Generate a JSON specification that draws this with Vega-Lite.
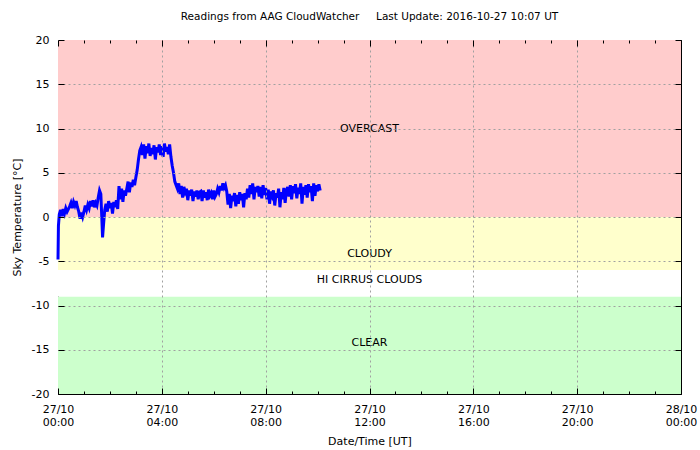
{
  "$schema": "https://vega.github.io/schema/vega-lite/v6.json",
  "width": 623,
  "height": 354,
  "autosize": {"type": "none"},
  "padding": {"left": 58, "top": 40, "right": 19, "bottom": 56},
  "background": "white",
  "title": {"text": "Readings from AAG CloudWatcher\u00a0\u00a0\u00a0\u00a0 Last Update: 2016-10-27 10:07 UT", "fontSize": 10.5, "fontWeight": "normal", "font": "DejaVu Sans", "anchor": "middle", "offset": 12, "color": "black"},
  "config": {"view": {"stroke": "black", "strokeWidth": 1}, "font": "DejaVu Sans"},
  "resolve": {"axis": {"x": "independent", "y": "independent"}},
  "datasets": {
    "bands": [
      {"zone": "OVERCAST", "lo": 0, "hi": 20},
      {"zone": "CLOUDY", "lo": -6, "hi": 0},
      {"zone": "HI CIRRUS CLOUDS", "lo": -9, "hi": -6},
      {"zone": "CLEAR", "lo": -20, "hi": -9}
    ],
    "labels": [
      {"t": "2016-10-27T12:00:00Z", "v": 10, "label": "OVERCAST"},
      {"t": "2016-10-27T12:00:00Z", "v": -4.2, "label": "CLOUDY"},
      {"t": "2016-10-27T12:00:00Z", "v": -7.1, "label": "HI CIRRUS CLOUDS"},
      {"t": "2016-10-27T12:00:00Z", "v": -14.2, "label": "CLEAR"}
    ],
    "sky": [
      {"t": "2016-10-27T00:00:00Z", "v": -4.8},
      {"t": "2016-10-27T00:01:00Z", "v": -1.0},
      {"t": "2016-10-27T00:03:00Z", "v": 0.3},
      {"t": "2016-10-27T00:06:00Z", "v": 0.8},
      {"t": "2016-10-27T00:09:00Z", "v": 0.1},
      {"t": "2016-10-27T00:12:00Z", "v": 0.9},
      {"t": "2016-10-27T00:15:00Z", "v": 0.4},
      {"t": "2016-10-27T00:18:00Z", "v": 1.0},
      {"t": "2016-10-27T00:21:00Z", "v": 0.6},
      {"t": "2016-10-27T00:24:00Z", "v": 0.9},
      {"t": "2016-10-27T00:27:00Z", "v": 1.2},
      {"t": "2016-10-27T00:30:00Z", "v": 1.6},
      {"t": "2016-10-27T00:33:00Z", "v": 1.0},
      {"t": "2016-10-27T00:36:00Z", "v": 1.7},
      {"t": "2016-10-27T00:39:00Z", "v": 1.3},
      {"t": "2016-10-27T00:42:00Z", "v": 1.8},
      {"t": "2016-10-27T00:45:00Z", "v": 1.1},
      {"t": "2016-10-27T00:48:00Z", "v": 0.6},
      {"t": "2016-10-27T00:51:00Z", "v": -0.2},
      {"t": "2016-10-27T00:54:00Z", "v": 0.5},
      {"t": "2016-10-27T00:57:00Z", "v": 0.0},
      {"t": "2016-10-27T01:00:00Z", "v": 0.6},
      {"t": "2016-10-27T01:03:00Z", "v": 1.3},
      {"t": "2016-10-27T01:06:00Z", "v": 0.8},
      {"t": "2016-10-27T01:09:00Z", "v": 1.4},
      {"t": "2016-10-27T01:12:00Z", "v": 1.0},
      {"t": "2016-10-27T01:15:00Z", "v": 1.8},
      {"t": "2016-10-27T01:18:00Z", "v": 1.2},
      {"t": "2016-10-27T01:21:00Z", "v": 1.9},
      {"t": "2016-10-27T01:24:00Z", "v": 1.1},
      {"t": "2016-10-27T01:27:00Z", "v": 1.6},
      {"t": "2016-10-27T01:30:00Z", "v": 1.3},
      {"t": "2016-10-27T01:33:00Z", "v": 2.2},
      {"t": "2016-10-27T01:36:00Z", "v": 3.0},
      {"t": "2016-10-27T01:39:00Z", "v": 2.6},
      {"t": "2016-10-27T01:41:00Z", "v": 0.2},
      {"t": "2016-10-27T01:43:00Z", "v": -2.3},
      {"t": "2016-10-27T01:45:00Z", "v": -1.0},
      {"t": "2016-10-27T01:48:00Z", "v": 0.8},
      {"t": "2016-10-27T01:51:00Z", "v": 1.5},
      {"t": "2016-10-27T01:54:00Z", "v": 0.6},
      {"t": "2016-10-27T01:57:00Z", "v": 1.8},
      {"t": "2016-10-27T02:00:00Z", "v": 1.0},
      {"t": "2016-10-27T02:03:00Z", "v": 1.6},
      {"t": "2016-10-27T02:06:00Z", "v": 0.4},
      {"t": "2016-10-27T02:09:00Z", "v": 1.7},
      {"t": "2016-10-27T02:12:00Z", "v": 1.1},
      {"t": "2016-10-27T02:15:00Z", "v": 1.9},
      {"t": "2016-10-27T02:18:00Z", "v": 0.9},
      {"t": "2016-10-27T02:21:00Z", "v": 3.5},
      {"t": "2016-10-27T02:24:00Z", "v": 2.0},
      {"t": "2016-10-27T02:27:00Z", "v": 3.2},
      {"t": "2016-10-27T02:30:00Z", "v": 1.7},
      {"t": "2016-10-27T02:33:00Z", "v": 3.0},
      {"t": "2016-10-27T02:36:00Z", "v": 2.4},
      {"t": "2016-10-27T02:39:00Z", "v": 3.2},
      {"t": "2016-10-27T02:42:00Z", "v": 4.0},
      {"t": "2016-10-27T02:45:00Z", "v": 2.8},
      {"t": "2016-10-27T02:48:00Z", "v": 3.9},
      {"t": "2016-10-27T02:51:00Z", "v": 3.4},
      {"t": "2016-10-27T02:54:00Z", "v": 4.2},
      {"t": "2016-10-27T02:57:00Z", "v": 3.6},
      {"t": "2016-10-27T03:00:00Z", "v": 4.5},
      {"t": "2016-10-27T03:03:00Z", "v": 5.3},
      {"t": "2016-10-27T03:06:00Z", "v": 6.5},
      {"t": "2016-10-27T03:09:00Z", "v": 7.5},
      {"t": "2016-10-27T03:12:00Z", "v": 7.9},
      {"t": "2016-10-27T03:15:00Z", "v": 7.0},
      {"t": "2016-10-27T03:18:00Z", "v": 8.2},
      {"t": "2016-10-27T03:21:00Z", "v": 6.6},
      {"t": "2016-10-27T03:24:00Z", "v": 8.0},
      {"t": "2016-10-27T03:27:00Z", "v": 7.2},
      {"t": "2016-10-27T03:30:00Z", "v": 8.3},
      {"t": "2016-10-27T03:33:00Z", "v": 6.9},
      {"t": "2016-10-27T03:36:00Z", "v": 7.8},
      {"t": "2016-10-27T03:39:00Z", "v": 7.1},
      {"t": "2016-10-27T03:42:00Z", "v": 8.1},
      {"t": "2016-10-27T03:45:00Z", "v": 6.5},
      {"t": "2016-10-27T03:48:00Z", "v": 7.9},
      {"t": "2016-10-27T03:51:00Z", "v": 7.3},
      {"t": "2016-10-27T03:54:00Z", "v": 8.2},
      {"t": "2016-10-27T03:57:00Z", "v": 7.0},
      {"t": "2016-10-27T04:00:00Z", "v": 8.0},
      {"t": "2016-10-27T04:03:00Z", "v": 6.8},
      {"t": "2016-10-27T04:06:00Z", "v": 8.3},
      {"t": "2016-10-27T04:09:00Z", "v": 7.4},
      {"t": "2016-10-27T04:12:00Z", "v": 7.9},
      {"t": "2016-10-27T04:15:00Z", "v": 7.1},
      {"t": "2016-10-27T04:18:00Z", "v": 8.2},
      {"t": "2016-10-27T04:21:00Z", "v": 6.8},
      {"t": "2016-10-27T04:24:00Z", "v": 5.8},
      {"t": "2016-10-27T04:27:00Z", "v": 5.0},
      {"t": "2016-10-27T04:30:00Z", "v": 4.0},
      {"t": "2016-10-27T04:33:00Z", "v": 3.6},
      {"t": "2016-10-27T04:36:00Z", "v": 3.2},
      {"t": "2016-10-27T04:39:00Z", "v": 3.8},
      {"t": "2016-10-27T04:42:00Z", "v": 2.6},
      {"t": "2016-10-27T04:45:00Z", "v": 3.5},
      {"t": "2016-10-27T04:48:00Z", "v": 2.2},
      {"t": "2016-10-27T04:51:00Z", "v": 3.4},
      {"t": "2016-10-27T04:54:00Z", "v": 2.8},
      {"t": "2016-10-27T04:57:00Z", "v": 3.2},
      {"t": "2016-10-27T05:00:00Z", "v": 1.9},
      {"t": "2016-10-27T05:03:00Z", "v": 3.0},
      {"t": "2016-10-27T05:06:00Z", "v": 2.4},
      {"t": "2016-10-27T05:09:00Z", "v": 3.1},
      {"t": "2016-10-27T05:12:00Z", "v": 1.8},
      {"t": "2016-10-27T05:15:00Z", "v": 2.9},
      {"t": "2016-10-27T05:18:00Z", "v": 2.3},
      {"t": "2016-10-27T05:21:00Z", "v": 3.0},
      {"t": "2016-10-27T05:24:00Z", "v": 2.0},
      {"t": "2016-10-27T05:27:00Z", "v": 2.8},
      {"t": "2016-10-27T05:30:00Z", "v": 2.9},
      {"t": "2016-10-27T05:33:00Z", "v": 1.8},
      {"t": "2016-10-27T05:36:00Z", "v": 3.0},
      {"t": "2016-10-27T05:39:00Z", "v": 2.2},
      {"t": "2016-10-27T05:42:00Z", "v": 2.8},
      {"t": "2016-10-27T05:45:00Z", "v": 1.9},
      {"t": "2016-10-27T05:48:00Z", "v": 3.1},
      {"t": "2016-10-27T05:51:00Z", "v": 2.4},
      {"t": "2016-10-27T05:54:00Z", "v": 2.7},
      {"t": "2016-10-27T05:57:00Z", "v": 2.0},
      {"t": "2016-10-27T06:00:00Z", "v": 3.0},
      {"t": "2016-10-27T06:03:00Z", "v": 2.3},
      {"t": "2016-10-27T06:06:00Z", "v": 2.6},
      {"t": "2016-10-27T06:09:00Z", "v": 3.2},
      {"t": "2016-10-27T06:12:00Z", "v": 2.8},
      {"t": "2016-10-27T06:15:00Z", "v": 3.5},
      {"t": "2016-10-27T06:18:00Z", "v": 3.0},
      {"t": "2016-10-27T06:21:00Z", "v": 3.8},
      {"t": "2016-10-27T06:24:00Z", "v": 3.3},
      {"t": "2016-10-27T06:27:00Z", "v": 3.6},
      {"t": "2016-10-27T06:30:00Z", "v": 2.9},
      {"t": "2016-10-27T06:33:00Z", "v": 1.4},
      {"t": "2016-10-27T06:36:00Z", "v": 2.6},
      {"t": "2016-10-27T06:39:00Z", "v": 1.0},
      {"t": "2016-10-27T06:42:00Z", "v": 2.4},
      {"t": "2016-10-27T06:45:00Z", "v": 1.8},
      {"t": "2016-10-27T06:48:00Z", "v": 2.7},
      {"t": "2016-10-27T06:51:00Z", "v": 1.2},
      {"t": "2016-10-27T06:54:00Z", "v": 2.5},
      {"t": "2016-10-27T06:57:00Z", "v": 1.5},
      {"t": "2016-10-27T07:00:00Z", "v": 2.8},
      {"t": "2016-10-27T07:03:00Z", "v": 1.9},
      {"t": "2016-10-27T07:06:00Z", "v": 2.6},
      {"t": "2016-10-27T07:09:00Z", "v": 1.1},
      {"t": "2016-10-27T07:12:00Z", "v": 2.7},
      {"t": "2016-10-27T07:15:00Z", "v": 2.0},
      {"t": "2016-10-27T07:18:00Z", "v": 3.2},
      {"t": "2016-10-27T07:21:00Z", "v": 2.2},
      {"t": "2016-10-27T07:24:00Z", "v": 3.6},
      {"t": "2016-10-27T07:27:00Z", "v": 2.6},
      {"t": "2016-10-27T07:30:00Z", "v": 3.8},
      {"t": "2016-10-27T07:33:00Z", "v": 2.0},
      {"t": "2016-10-27T07:36:00Z", "v": 3.4},
      {"t": "2016-10-27T07:39:00Z", "v": 2.8},
      {"t": "2016-10-27T07:42:00Z", "v": 3.5},
      {"t": "2016-10-27T07:45:00Z", "v": 2.3},
      {"t": "2016-10-27T07:48:00Z", "v": 3.4},
      {"t": "2016-10-27T07:51:00Z", "v": 2.1},
      {"t": "2016-10-27T07:54:00Z", "v": 3.6},
      {"t": "2016-10-27T07:57:00Z", "v": 2.5},
      {"t": "2016-10-27T08:00:00Z", "v": 3.3},
      {"t": "2016-10-27T08:03:00Z", "v": 2.0},
      {"t": "2016-10-27T08:06:00Z", "v": 3.1},
      {"t": "2016-10-27T08:09:00Z", "v": 1.5},
      {"t": "2016-10-27T08:12:00Z", "v": 2.9},
      {"t": "2016-10-27T08:15:00Z", "v": 2.4},
      {"t": "2016-10-27T08:18:00Z", "v": 3.0},
      {"t": "2016-10-27T08:21:00Z", "v": 1.3},
      {"t": "2016-10-27T08:24:00Z", "v": 2.7},
      {"t": "2016-10-27T08:27:00Z", "v": 2.2},
      {"t": "2016-10-27T08:30:00Z", "v": 3.2},
      {"t": "2016-10-27T08:33:00Z", "v": 1.1},
      {"t": "2016-10-27T08:36:00Z", "v": 2.8},
      {"t": "2016-10-27T08:39:00Z", "v": 2.0},
      {"t": "2016-10-27T08:42:00Z", "v": 3.3},
      {"t": "2016-10-27T08:45:00Z", "v": 1.6},
      {"t": "2016-10-27T08:48:00Z", "v": 3.0},
      {"t": "2016-10-27T08:51:00Z", "v": 3.4},
      {"t": "2016-10-27T08:54:00Z", "v": 2.3},
      {"t": "2016-10-27T08:57:00Z", "v": 3.6},
      {"t": "2016-10-27T09:00:00Z", "v": 2.0},
      {"t": "2016-10-27T09:03:00Z", "v": 3.5},
      {"t": "2016-10-27T09:06:00Z", "v": 2.7},
      {"t": "2016-10-27T09:09:00Z", "v": 3.7},
      {"t": "2016-10-27T09:12:00Z", "v": 2.1},
      {"t": "2016-10-27T09:15:00Z", "v": 3.3},
      {"t": "2016-10-27T09:18:00Z", "v": 2.6},
      {"t": "2016-10-27T09:21:00Z", "v": 3.8},
      {"t": "2016-10-27T09:24:00Z", "v": 1.5},
      {"t": "2016-10-27T09:27:00Z", "v": 3.4},
      {"t": "2016-10-27T09:30:00Z", "v": 2.5},
      {"t": "2016-10-27T09:33:00Z", "v": 3.6},
      {"t": "2016-10-27T09:36:00Z", "v": 2.2},
      {"t": "2016-10-27T09:39:00Z", "v": 3.7},
      {"t": "2016-10-27T09:42:00Z", "v": 2.8},
      {"t": "2016-10-27T09:45:00Z", "v": 3.5},
      {"t": "2016-10-27T09:48:00Z", "v": 1.8},
      {"t": "2016-10-27T09:51:00Z", "v": 3.8},
      {"t": "2016-10-27T09:54:00Z", "v": 2.4},
      {"t": "2016-10-27T09:57:00Z", "v": 3.6},
      {"t": "2016-10-27T10:00:00Z", "v": 2.9},
      {"t": "2016-10-27T10:03:00Z", "v": 3.7},
      {"t": "2016-10-27T10:06:00Z", "v": 3.0}
    ]
  },
  "layer": [
    {
      "data": {"name": "bands"},
      "mark": {"type": "rect"},
      "encoding": {
        "y": {
          "field": "lo", "type": "quantitative", "scale": {"domain": [-20, 20], "nice": false, "zero": false},
          "axis": {
            "title": "Sky Temperature [°C]", "titleFontSize": 11, "titleFontWeight": "normal", "titleColor": "black", "titlePadding": 9,
            "values": [-20, -15, -10, -5, 0, 5, 10, 15, 20],
            "labelExpr": "'' + datum.value",
            "labelFontSize": 11, "labelColor": "black", "labelPadding": 15,
            "domain": false, "tickColor": "black", "tickSize": -6,
            "grid": true, "gridColor": "#a0a0a0", "gridDash": [2, 3],
            "gridOpacity": {"condition": {"test": "datum.value > -20 && datum.value < 20", "value": 1}, "value": 0},
            "zindex": 1
          }
        },
        "y2": {"field": "hi"},
        "color": {"field": "zone", "type": "nominal", "legend": null,
          "scale": {"domain": ["OVERCAST", "CLOUDY", "HI CIRRUS CLOUDS", "CLEAR"], "range": ["#ffcccc", "#ffffcc", "#ffffff", "#ccffcc"]}}
      }
    },
    {
      "data": {"name": "labels"},
      "mark": {"type": "text", "fontSize": 11, "font": "DejaVu Sans", "color": "black", "align": "center", "baseline": "middle"},
      "encoding": {
        "x": {
          "field": "t", "type": "temporal",
          "scale": {"type": "utc", "domain": [1477526400000, 1477612800000], "nice": false},
          "axis": {
            "title": "Date/Time [UT]", "titleFontSize": 11, "titleFontWeight": "normal", "titleColor": "black", "titlePadding": 8,
            "values": [1477526400000, 1477530000000, 1477533600000, 1477537200000, 1477540800000, 1477544400000, 1477548000000, 1477551600000, 1477555200000, 1477558800000, 1477562400000, 1477566000000, 1477569600000, 1477573200000, 1477576800000, 1477580400000, 1477584000000, 1477587600000, 1477591200000, 1477594800000, 1477598400000, 1477602000000, 1477605600000, 1477609200000, 1477612800000],
            "labelExpr": "utchours(datum.value) % 4 == 0 ? [utcFormat(datum.value, '%d/%m'), utcFormat(datum.value, '%H:%M')] : ''",
            "labelFontSize": 11, "labelColor": "black", "labelOverlap": false, "labelFlush": false, "labelPadding": 15,
            "domain": false,
            "tickColor": "black",
            "tickSize": {"condition": {"test": "utchours(datum.value) % 4 == 0", "value": -6}, "value": -3},
            "grid": true, "gridColor": "#a0a0a0", "gridDash": [2, 3],
            "gridOpacity": {"condition": {"test": "utchours(datum.value) % 4 == 0 && datum.value > 1477526400000 && datum.value < 1477612800000", "value": 1}, "value": 0},
            "zindex": 1
          }
        },
        "y": {"field": "v", "type": "quantitative", "axis": null},
        "text": {"field": "label"}
      }
    },
    {
      "data": {"name": "sky"},
      "mark": {"type": "line", "color": "#0000ff", "strokeWidth": 3, "strokeJoin": "miter", "interpolate": "linear"},
      "encoding": {
        "x": {
          "field": "t", "type": "temporal",
          "axis": {
            "orient": "top", "title": null, "labels": false, "grid": false, "domain": false,
            "values": [1477526400000, 1477530000000, 1477533600000, 1477537200000, 1477540800000, 1477544400000, 1477548000000, 1477551600000, 1477555200000, 1477558800000, 1477562400000, 1477566000000, 1477569600000, 1477573200000, 1477576800000, 1477580400000, 1477584000000, 1477587600000, 1477591200000, 1477594800000, 1477598400000, 1477602000000, 1477605600000, 1477609200000, 1477612800000],
            "tickColor": "black",
            "tickSize": {"condition": {"test": "utchours(datum.value) % 4 == 0", "value": -6}, "value": -3},
            "zindex": 1
          }
        },
        "y": {
          "field": "v", "type": "quantitative",
          "axis": {
            "orient": "right", "title": null, "labels": false, "grid": false, "domain": false,
            "values": [-20, -15, -10, -5, 0, 5, 10, 15, 20],
            "tickColor": "black", "tickSize": -6, "zindex": 1
          }
        }
      }
    }
  ]
}
